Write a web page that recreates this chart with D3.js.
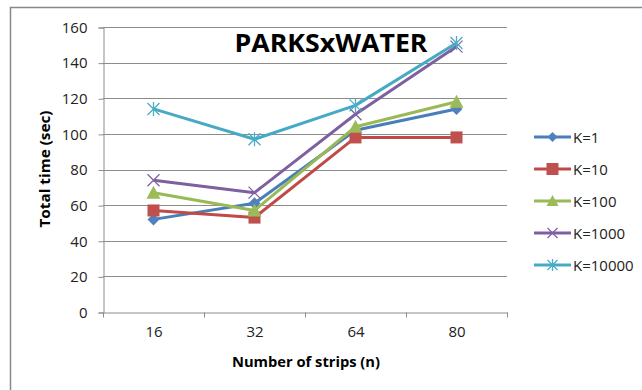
<!DOCTYPE html>
<html><head><meta charset="utf-8">
<script src="https://cdn.jsdelivr.net/npm/d3@7"></script>
<style>body{margin:0;background:#fff}svg{display:block}</style>
</head><body>
<script>
const categories = ["16", "32", "64", "80"];
const seriesNames = ["K=1", "K=10", "K=100", "K=1000", "K=10000"];
const k1 = [52, 61, 102, 114];
const k10 = [57, 53, 98, 98];
const k100 = [67, 57, 104, 118];
const k1000 = [74, 67, 111, 149];
const k10000 = [114, 97, 116, 151];
const yTicks = [0, 20, 40, 60, 80, 100, 120, 140, 160];
const title = "PARKSxWATER";
const xTitle = "Number of strips (n)";
const yTitle = "Total time (sec)";

const seriesValues = [k1, k10, k100, k1000, k10000];
const lineColors = ["#4A7EBB", "#BE4B48", "#98B954", "#7D60A0", "#46AAC5"];
const markerColors = ["#4F81BD", "#C0504D", "#9BBB59", "#8064A2", "#4BACC6"];
const markerTypes = ["diamond", "square", "triangle", "x", "star"];

const W = 642, H = 390;
const svg = d3.select("body").append("svg").attr("width", W).attr("height", H);
const font = "'Open Sans', 'Liberation Sans', Arial, sans-serif";

svg.append("rect").attr("x", 10.5).attr("y", 7.5).attr("width", 800).attr("height", 600)
  .attr("fill", "none").attr("stroke", "#888").attr("stroke-width", 1.5);

const plot = {l: 103, r: 507, t: 27, b: 312};
const x = d3.scaleBand().domain(categories).range([plot.l, plot.r]);
const y = d3.scaleLinear().domain([0, 160]).range([plot.b, plot.t]);

// gridlines
svg.append("g").selectAll("line").data(yTicks.filter(d => d > 0)).join("line")
  .attr("x1", plot.l).attr("x2", plot.r)
  .attr("y1", d => Math.round(y(d)) + 0.5).attr("y2", d => Math.round(y(d)) + 0.5)
  .attr("stroke", "#8c8c8c").attr("stroke-width", 1);

// y axis
const yAxis = svg.append("g").attr("transform", `translate(${plot.l + 0.5},0.5)`)
  .call(d3.axisLeft(y).tickValues(yTicks).tickSize(5).tickPadding(11));
yAxis.select(".domain").attr("stroke", "#8c8c8c");
yAxis.selectAll(".tick line").attr("stroke", "#8c8c8c");
yAxis.selectAll("text").attr("font-family", font).attr("font-size", 15).attr("fill", "#222");

// x axis
const xAxis = svg.append("g").attr("transform", `translate(0.5,${plot.b + 0.5})`)
  .call(d3.axisBottom(x).tickSize(0).tickPadding(14));
xAxis.select(".domain").attr("stroke", "#8c8c8c");
xAxis.selectAll("text").attr("font-family", font).attr("font-size", 15).attr("fill", "#222");
const bounds = categories.map(c => x(c)).concat([plot.r]);
xAxis.selectAll(".bt").data(bounds).join("line").attr("class", "bt")
  .attr("x1", d => d).attr("x2", d => d).attr("y1", 0).attr("y2", 5).attr("stroke", "#8c8c8c");

// titles
svg.append("text").attr("x", 331).attr("y", 52).attr("text-anchor", "middle")
  .attr("font-family", font).attr("font-weight", "bold").attr("font-size", 25)
  .attr("textLength", 193).attr("lengthAdjust", "spacingAndGlyphs").text(title);
svg.append("text").attr("x", 306).attr("y", 367).attr("text-anchor", "middle")
  .attr("font-family", font).attr("font-weight", "bold").attr("font-size", 14)
  .attr("textLength", 148).attr("lengthAdjust", "spacingAndGlyphs").text(xTitle);
svg.append("text").attr("transform", "translate(50,169) rotate(-90)").attr("text-anchor", "middle")
  .attr("font-family", font).attr("font-weight", "bold").attr("font-size", 14)
  .attr("textLength", 117).attr("lengthAdjust", "spacingAndGlyphs").text(yTitle);

function drawMarker(g, type, cx, cy, color, s) {
  if (type === "diamond") {
    g.append("path").attr("d", `M${cx},${cy-s}L${cx+s},${cy}L${cx},${cy+s}L${cx-s},${cy}Z`).attr("fill", color);
  } else if (type === "square") {
    g.append("rect").attr("x", cx - s).attr("y", cy - s).attr("width", 2*s).attr("height", 2*s).attr("fill", color);
  } else if (type === "triangle") {
    g.append("path").attr("d", `M${cx},${cy-s-1}L${cx+s+1},${cy+s}L${cx-s-1},${cy+s}Z`).attr("fill", color);
  } else if (type === "x") {
    g.append("path").attr("d", `M${cx-s},${cy-s}L${cx+s},${cy+s}M${cx-s},${cy+s}L${cx+s},${cy-s}`)
      .attr("stroke", color).attr("stroke-width", 1.3).attr("fill", "none");
  } else if (type === "star") {
    g.append("path").attr("d", `M${cx-s},${cy-s}L${cx+s},${cy+s}M${cx-s},${cy+s}L${cx+s},${cy-s}M${cx},${cy-s-1}L${cx},${cy+s+1}`)
      .attr("stroke", color).attr("stroke-width", 1.3).attr("fill", "none");
  }
}

const line = d3.line().x((d, i) => x(categories[i]) + x.bandwidth() / 2).y(d => y(d));
seriesValues.forEach((vals, si) => {
  const g = svg.append("g");
  g.append("path").attr("d", line(vals)).attr("fill", "none")
    .attr("stroke", lineColors[si]).attr("stroke-width", 3).attr("stroke-linejoin", "round");
  vals.forEach((v, i) => {
    drawMarker(g, markerTypes[si], x(categories[i]) + x.bandwidth() / 2, y(v), markerColors[si], 6);
  });
});

// legend
const legY = d3.scalePoint().domain(seriesNames).range([137, 265]);
seriesNames.forEach((n, si) => {
  const g = svg.append("g");
  const ly = legY(n);
  g.append("line").attr("x1", 534).attr("x2", 571).attr("y1", ly).attr("y2", ly)
    .attr("stroke", lineColors[si]).attr("stroke-width", 3);
  drawMarker(g, markerTypes[si], 552.5, ly, markerColors[si], si === 1 ? 6 : 5);
  g.append("text").attr("x", 573).attr("y", ly + 5.5).attr("font-family", font)
    .attr("font-size", 15).attr("fill", "#222").text(n);
});
</script>
</body></html>
